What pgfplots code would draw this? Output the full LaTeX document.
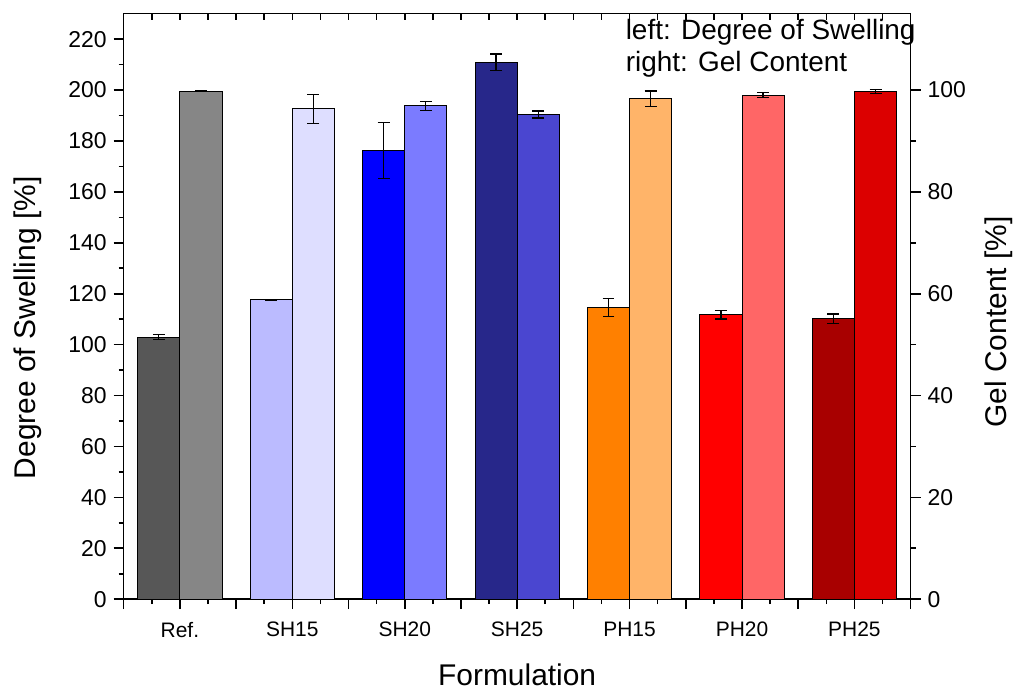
\documentclass[border=0pt]{standalone}
\usepackage{pgfplots}
\pgfplotsset{compat=1.18}
\usepackage{fontspec}
\setmainfont{Liberation Sans}
\definecolor{refS}{HTML}{575757}
\definecolor{refG}{HTML}{868686}
\definecolor{shAS}{HTML}{BBBBFF}
\definecolor{shAG}{HTML}{DEDEFF}
\definecolor{shBS}{HTML}{0000FF}
\definecolor{shBG}{HTML}{7B7BFF}
\definecolor{shCS}{HTML}{27278A}
\definecolor{shCG}{HTML}{4A46D0}
\definecolor{phAS}{HTML}{FF8000}
\definecolor{phAG}{HTML}{FFB469}
\definecolor{phBS}{HTML}{FF0000}
\definecolor{phBG}{HTML}{FF6666}
\definecolor{phCS}{HTML}{A80000}
\definecolor{phCG}{HTML}{DC0000}
\begin{document}
\begin{tikzpicture}
\pgfplotsset{
  base/.style={width=394.5pt, height=293.5pt, scale only axis,
    xmin=0.5, xmax=7.5,
    /pgf/number format/assume math mode=true,
    tick label style={font=\fontsize{11.5}{13}\selectfont},
    major tick length=5pt, minor tick length=2.5pt,
    tick style={black, line width=0.8pt},
    axis line style={line width=0.8pt}},
  bb/.style={ybar, bar width=0.375, bar shift=0pt, draw=black, line width=0.5pt, fill=#1,
    error bars/.cd, y dir=both, y explicit,
    error bar style={black, line width=0.6pt},
    error mark options={black, line width=0.6pt, mark size=3pt, rotate=90}},
}
% left axis: Degree of Swelling (bars left of each category centre)
\begin{axis}[base, name=ax, ymin=0, ymax=230,
  xtick={0.5,1,1.5,2,2.5,3,3.5,4,4.5,5,5.5,6,6.5,7,7.5},
  xticklabels={{},Ref.,{},SH15,{},SH20,{},SH25,{},PH15,{},PH20,{},PH25,{}},
  xtick pos=bottom, ytick pos=left, tick align=outside,
  ytick={0,20,...,220}, minor x tick num=1, minor y tick num=1,
  xticklabel style={font=\fontsize{10.5}{12}\selectfont, yshift=-3pt}]
\addplot[bb=refS] coordinates {(0.8125,102.9) +- (0,1.0)};
\addplot[bb=shAS] coordinates {(1.8125,117.6) +- (0,0.2)};
\addplot[bb=shBS] coordinates {(2.8125,176.4) +- (0,11.0)};
\addplot[bb=shCS] coordinates {(3.8125,211.0) +- (0,3.2)};
\addplot[bb=phAS] coordinates {(4.8125,114.5) +- (0,3.5)};
\addplot[bb=phBS] coordinates {(5.8125,111.8) +- (0,1.7)};
\addplot[bb=phCS] coordinates {(6.8125,110.1) +- (0,1.9)};
\end{axis}
% right axis: Gel Content (bars right of each category centre)
\begin{axis}[base, ymin=0, ymax=115,
  axis y line*=right, axis x line=none, tick align=outside,
  ytick={0,20,...,100}, minor y tick num=1]
\addplot[bb=refG] coordinates {(1.1875,99.8) +- (0,0.1)};
\addplot[bb=shAG] coordinates {(2.1875,96.3) +- (0,2.8)};
\addplot[bb=shBG] coordinates {(3.1875,96.9) +- (0,0.9)};
\addplot[bb=shCG] coordinates {(4.1875,95.2) +- (0,0.7)};
\addplot[bb=phAG] coordinates {(5.1875,98.3) +- (0,1.5)};
\addplot[bb=phBG] coordinates {(6.1875,99.0) +- (0,0.45)};
\addplot[bb=phCG] coordinates {(7.1875,99.7) +- (0,0.45)};
\end{axis}
% top inward ticks
\begin{axis}[base, ymin=0, ymax=1,
  axis x line*=top, axis y line=none, tick align=inside,
  xtick={0.5,1,1.5,2,2.5,3,3.5,4,4.5,5,5.5,6,6.5,7,7.5},
  xticklabels={}, minor x tick num=1,
  major tick length=3pt, minor tick length=3pt]
\end{axis}
\node[anchor=north west, inner sep=0pt, align=left, font=\fontsize{14}{16}\selectfont]
  at ([xshift=251.5pt,yshift=-2.5pt]ax.north west) {left: Degree of Swelling\\right: Gel Content};
\node[rotate=90, font=\fontsize{15}{18}\selectfont] at ([xshift=-48pt,yshift=-10.75pt]ax.west) {Degree of Swelling [\%]};
\node[rotate=90, font=\fontsize{15}{18}\selectfont] at ([xshift=44pt,yshift=-7.75pt]ax.east) {Gel Content [\%]};
\node[anchor=base, font=\fontsize{15}{18}\selectfont] at ([yshift=-43.5pt]ax.south) {Formulation};
\path ([shift={(-62pt,-44pt)}]ax.south west) rectangle ([shift={(53pt,6.5pt)}]ax.north east);
\end{tikzpicture}
\end{document}
